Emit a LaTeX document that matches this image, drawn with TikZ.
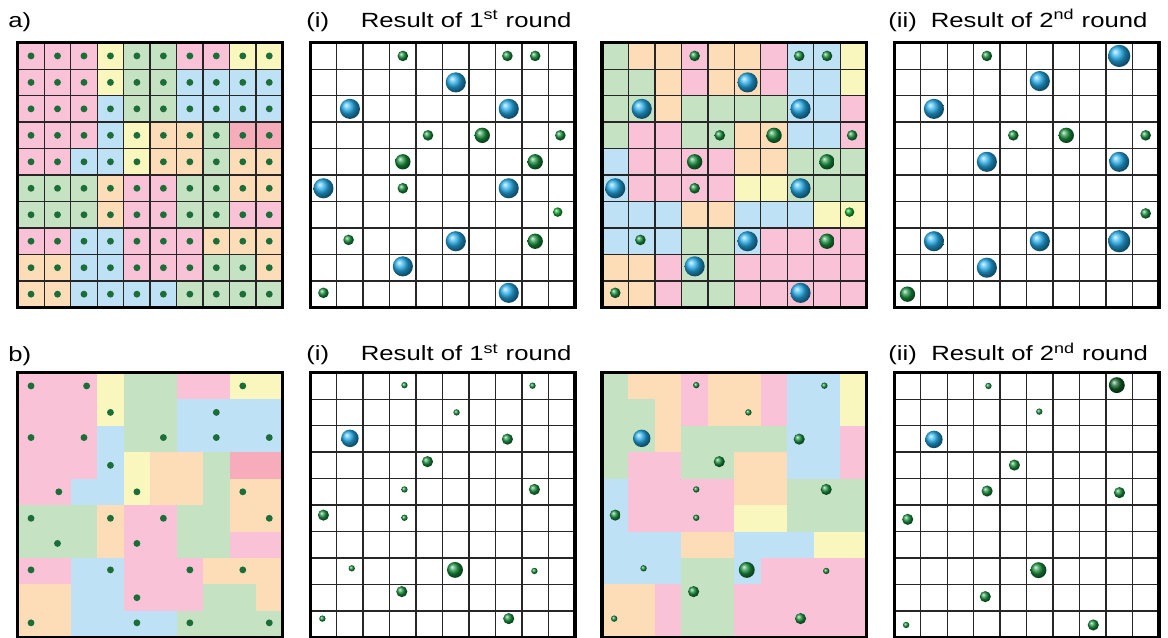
\documentclass[tikz,border=0pt]{standalone}
\usepackage{fontspec}
\newfontfamily\labelfont[FakeStretch=1.25]{Liberation Sans}
\definecolor{cellP}{RGB}{249,194,214}
\definecolor{cellR}{RGB}{246,172,187}
\definecolor{cellY}{RGB}{250,247,190}
\definecolor{cellG}{RGB}{197,226,194}
\definecolor{cellB}{RGB}{191,225,245}
\definecolor{cellO}{RGB}{253,221,184}
\definecolor{dotGreen}{RGB}{28,110,56}
\definecolor{ballGreen}{RGB}{25,145,62}
\definecolor{ballBlue}{RGB}{35,172,232}
\usetikzlibrary{positioning}

% colour layouts, rows from top to bottom
\newcommand{\layoutFirst}{{P,P,P,Y,G,G,P,P,Y,Y},{P,P,P,Y,G,G,B,B,B,B},{P,P,P,B,G,G,B,B,B,B},{P,P,P,B,Y,O,O,G,R,R},{P,P,B,B,Y,O,O,G,O,O},{G,G,G,O,P,P,G,G,O,O},{G,G,G,O,P,P,G,G,P,P},{P,P,B,B,P,P,P,O,O,O},{O,O,B,B,P,P,P,G,G,O},{O,O,B,B,B,B,G,G,G,G}}
\newcommand{\layoutSecond}{{G,O,O,P,O,O,P,B,B,Y},{G,G,O,P,O,O,P,B,B,Y},{G,G,O,G,G,G,G,B,B,P},{G,P,P,G,G,O,O,B,B,P},{B,P,P,P,P,O,O,G,G,G},{B,P,P,P,P,Y,Y,G,G,G},{B,B,B,O,O,B,B,B,Y,Y},{B,B,B,G,G,B,P,P,P,P},{O,O,P,G,G,P,P,P,P,P},{O,O,P,G,G,P,P,P,P,P}}
% sensors: x/y/style
\newcommand{\roundOneA}{3.5/0.5/gsmall, 7.45/0.5/gsmall, 8.5/0.5/gsmall, 5.5/1.5/bball, 1.5/2.5/bball, 7.5/2.5/bball, 4.45/3.5/gsmall, 6.5/3.5/gmid, 9.45/3.5/gsmall, 3.5/4.5/gmid, 8.5/4.5/gmid, 0.5/5.5/bball, 3.5/5.5/gsmall, 7.5/5.5/bball, 9.35/6.4/glight, 1.45/7.45/gsmall, 5.5/7.5/bball, 8.5/7.5/gmid, 3.5/8.45/bball, 0.5/9.45/gsmall, 7.5/9.45/bball}
\newcommand{\roundTwoA}{3.5/0.5/gsmall, 8.5/0.5/bbig, 5.5/1.45/bball, 1.5/2.5/bball, 4.5/3.5/gsmall, 6.5/3.5/gmid, 9.5/3.5/gsmall, 3.5/4.5/bball, 8.5/4.5/bball, 9.5/6.45/gsmall, 1.5/7.5/bball, 5.5/7.5/bball, 8.5/7.5/bbig, 3.5/8.5/bball, 0.5/9.5/gmid}
\newcommand{\roundOneB}{3.56/0.47/gtiny, 8.4/0.49/gtiny, 5.53/1.5/gtiny, 1.5/2.48/bsmall, 7.45/2.51/gmed, 4.43/3.36/gmed, 3.56/4.41/gtiny, 8.47/4.41/gmed, 0.5/5.38/gmed, 3.56/5.48/gtiny, 1.57/7.39/gtiny, 5.47/7.45/gbig, 8.47/7.49/gtiny, 3.46/8.27/gmed, 0.46/9.29/gtiny, 7.5/9.29/gmed}
\newcommand{\roundTwoB}{3.56/0.5/gtiny, 8.41/0.47/gdark, 5.48/1.47/gtiny, 1.5/2.52/bsmall, 4.54/3.49/gmed, 3.51/4.47/gmed, 8.51/4.53/gmed, 0.51/5.54/gmed, 5.45/7.46/gbig, 3.44/8.46/gmed, 0.45/9.53/gtiny, 7.52/9.53/gmed}
\newcommand{\pointsB}{0.5/0.5, 2.6/0.5, 8.5/0.5, 3.5/1.5, 7.5/1.5, 0.5/2.45, 2.5/2.45, 5.5/2.45, 7.5/2.45, 9.5/2.45, 3.5/3.5, 1.55/4.5, 4.5/4.5, 8.5/4.5, 0.5/5.5, 3.5/5.5, 5.5/5.5, 9.5/5.5, 1.5/6.45, 4.5/6.45, 0.5/7.45, 3.5/7.45, 6.5/7.45, 8.5/7.45, 4.5/8.5, 0.5/9.45, 4.5/9.45, 6.5/9.45, 9.5/9.45}

\begin{document}
\begin{tikzpicture}[x=0.02cm, y=-0.02cm,
    lab/.style={anchor=base west, inner sep=0pt, font=\labelfont\fontsize{11.7}{14}\selectfont},
    cellline/.style={draw=black!85, line width=0.75pt},
    frame/.style={draw=black, line width=1.9pt},
    pin/.style={fill=dotGreen, radius=0.13},
    gsmall/.style={shade, ball color=ballGreen, radius=0.2},
    glight/.style={shade, ball color=ballGreen!75!green, radius=0.18},
    gmid/.style={shade, ball color=ballGreen, radius=0.29},
    bball/.style={shade, ball color=ballBlue, radius=0.38},
    bbig/.style={shade, ball color=ballBlue, radius=0.42},
    gtiny/.style={shade, ball color=ballGreen, radius=0.12},
    gmed/.style={shade, ball color=ballGreen, radius=0.21},
    gbig/.style={shade, ball color=ballGreen, radius=0.3},
    gdark/.style={shade, ball color=ballGreen!70!black, radius=0.3},
    bsmall/.style={shade, ball color=ballBlue, radius=0.33}
  ]
  \fill[white] (0,0) rectangle (1168,638);
  \useasboundingbox (0,0) rectangle (1168,638);

  % titles
  \node[lab] (tagA)   at (8,28)      {a)};
  \node[lab] (numA1)  at (306,27.3)  {(i)};
  \node[lab] (titA1)  at (360.5,27.3) {Result of 1\textsuperscript{st} round};
  \node[lab] (numA2)  at (888,27.3)  {(ii)};
  \node[lab] (titA2)  at (930.5,27.3) {Result of 2\textsuperscript{nd} round};
  \node[lab] (tagB)   at (8,361)     {b)};
  \node[lab] (numB1)  at (306,360.8) {(i)};
  \node[lab] (titB1)  at (360.5,360.8) {Result of 1\textsuperscript{st} round};
  \node[lab] (numB2)  at (888,360.8) {(ii)};
  \node[lab] (titB2)  at (931,360.8) {Result of 2\textsuperscript{nd} round};

  % a) full grid of points
  \begin{scope}[shift={(17.8,42.7)}, scale=26.47]
    \foreach \row [count=\r from 0] in \layoutFirst
      \foreach \c [count=\k from 0] in \row {
        \fill[fill=cell\c] (\k,\r) rectangle +(1,1);
        \path[pin] (\k+0.5,\r+0.5) circle;
      }
    \foreach \i in {1,...,9} {
      \draw[cellline] (\i,0) -- (\i,10);
      \draw[cellline] (0,\i) -- (10,\i);
    }
    \draw[frame] (0,0) rectangle (10,10);
  \end{scope}

  \begin{scope}[shift={(310.2,42.7)}, scale=26.47]
    \foreach \i in {1,...,9} {
      \draw[cellline] (\i,0) -- (\i,10);
      \draw[cellline] (0,\i) -- (10,\i);
    }
    \foreach \x/\y/\s in \roundOneA
      \path[\s] (\x,\y) circle;
    \draw[frame] (0,0) rectangle (10,10);
  \end{scope}

  \begin{scope}[shift={(602,42.7)}, scale=26.47]
    \foreach \row [count=\r from 0] in \layoutSecond
      \foreach \c [count=\k from 0] in \row
        \fill[fill=cell\c] (\k,\r) rectangle +(1,1);
    \foreach \i in {1,...,9} {
      \draw[cellline] (\i,0) -- (\i,10);
      \draw[cellline] (0,\i) -- (10,\i);
    }
    \foreach \x/\y/\s in \roundOneA
      \path[\s] (\x,\y) circle;
    \draw[frame] (0,0) rectangle (10,10);
  \end{scope}

  \begin{scope}[shift={(894.2,42.7)}, scale=26.47]
    \foreach \i in {1,...,9} {
      \draw[cellline] (\i,0) -- (\i,10);
      \draw[cellline] (0,\i) -- (10,\i);
    }
    \foreach \x/\y/\s in \roundTwoA
      \path[\s] (\x,\y) circle;
    \draw[frame] (0,0) rectangle (10,10);
  \end{scope}

  % b) sparse points
  \begin{scope}[shift={(17.8,372.7)}, scale=26.47]
    \foreach \row [count=\r from 0] in \layoutFirst
      \foreach \c [count=\k from 0] in \row
        \fill[fill=cell\c] (\k,\r) rectangle +(1.01,1.01);
    \foreach \x/\y in \pointsB
      \path[pin] (\x,\y) circle;
    \draw[frame] (0,0) rectangle (10,10);
  \end{scope}

  \begin{scope}[shift={(310.2,372.7)}, scale=26.47]
    \foreach \i in {1,...,9} {
      \draw[cellline] (\i,0) -- (\i,10);
      \draw[cellline] (0,\i) -- (10,\i);
    }
    \foreach \x/\y/\s in \roundOneB
      \path[\s] (\x,\y) circle;
    \draw[frame] (0,0) rectangle (10,10);
  \end{scope}

  \begin{scope}[shift={(602,372.7)}, scale=26.47]
    \foreach \row [count=\r from 0] in \layoutSecond
      \foreach \c [count=\k from 0] in \row
        \fill[fill=cell\c] (\k,\r) rectangle +(1.01,1.01);
    \foreach \x/\y/\s in \roundOneB
      \path[\s] (\x,\y) circle;
    \draw[frame] (0,0) rectangle (10,10);
  \end{scope}

  \begin{scope}[shift={(894.2,372.7)}, scale=26.47]
    \foreach \i in {1,...,9} {
      \draw[cellline] (\i,0) -- (\i,10);
      \draw[cellline] (0,\i) -- (10,\i);
    }
    \foreach \x/\y/\s in \roundTwoB
      \path[\s] (\x,\y) circle;
    \draw[frame] (0,0) rectangle (10,10);
  \end{scope}
\end{tikzpicture}
\end{document}
